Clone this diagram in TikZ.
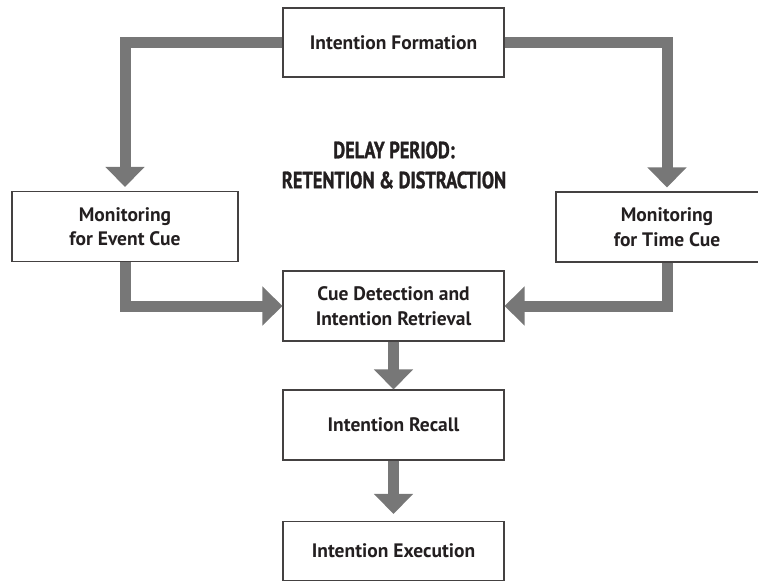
\documentclass[tikz,border=0pt]{standalone}
\usepackage{fontspec}
\setmainfont{PT Sans}
\newfontfamily\headfont[FakeStretch=0.78,FakeBold=1.2]{PT Sans Bold}
\usetikzlibrary{arrows.meta}
\definecolor{flowgray}{HTML}{777777}
\definecolor{ink}{HTML}{231F20}
\begin{document}
\begin{tikzpicture}[x=1pt,y=-1pt,
  stage/.style={draw=ink!85,line width=1.1pt,text=ink,align=center,
    font=\fontsize{19.5}{24.5}\selectfont\bfseries,inner sep=0pt},
  flow/.style={draw=flowgray,line width=11pt,
    -{Triangle[width=38pt,length=20pt]}}]
\useasboundingbox (0,0) rectangle (758,582);
\node[stage,minimum width=221pt,minimum height=69pt] (form) at (393.5,42.5) {Intention Formation};
\node[stage,minimum width=226pt,minimum height=70pt] (event) at (125,226.5) {Monitoring\\for Event Cue};
\node[stage,minimum width=222pt,minimum height=70pt] (time) at (667,227) {Monitoring\\for Time Cue};
\node[stage,minimum width=221pt,minimum height=70pt] (cue) at (393.5,306) {Cue Detection and\\Intention Retrieval};
\node[stage,minimum width=221pt,minimum height=70pt] (recall) at (393.5,425) {Intention Recall};
\node[stage,minimum width=221pt,minimum height=59pt] (exec) at (393.5,551) {Intention Execution};
\node[text=ink,align=center,font=\fontsize{23.5}{30}\headfont] (delay) at (394,165) {DELAY PERIOD:\\RETENTION \& DISTRACTION};
% arrows between stages
\draw[flow,shorten >=4pt] (form.west) -| (event.north);
\draw[flow,shorten >=4pt] (form.east) -| (time.north);
\draw[flow] (event.south) |- (cue.west);
\draw[flow] (time.south) |- (cue.east);
\draw[flow] (cue) -- (recall);
\draw[flow,shorten >=7pt] (recall) -- (exec);
\end{tikzpicture}
\end{document}
